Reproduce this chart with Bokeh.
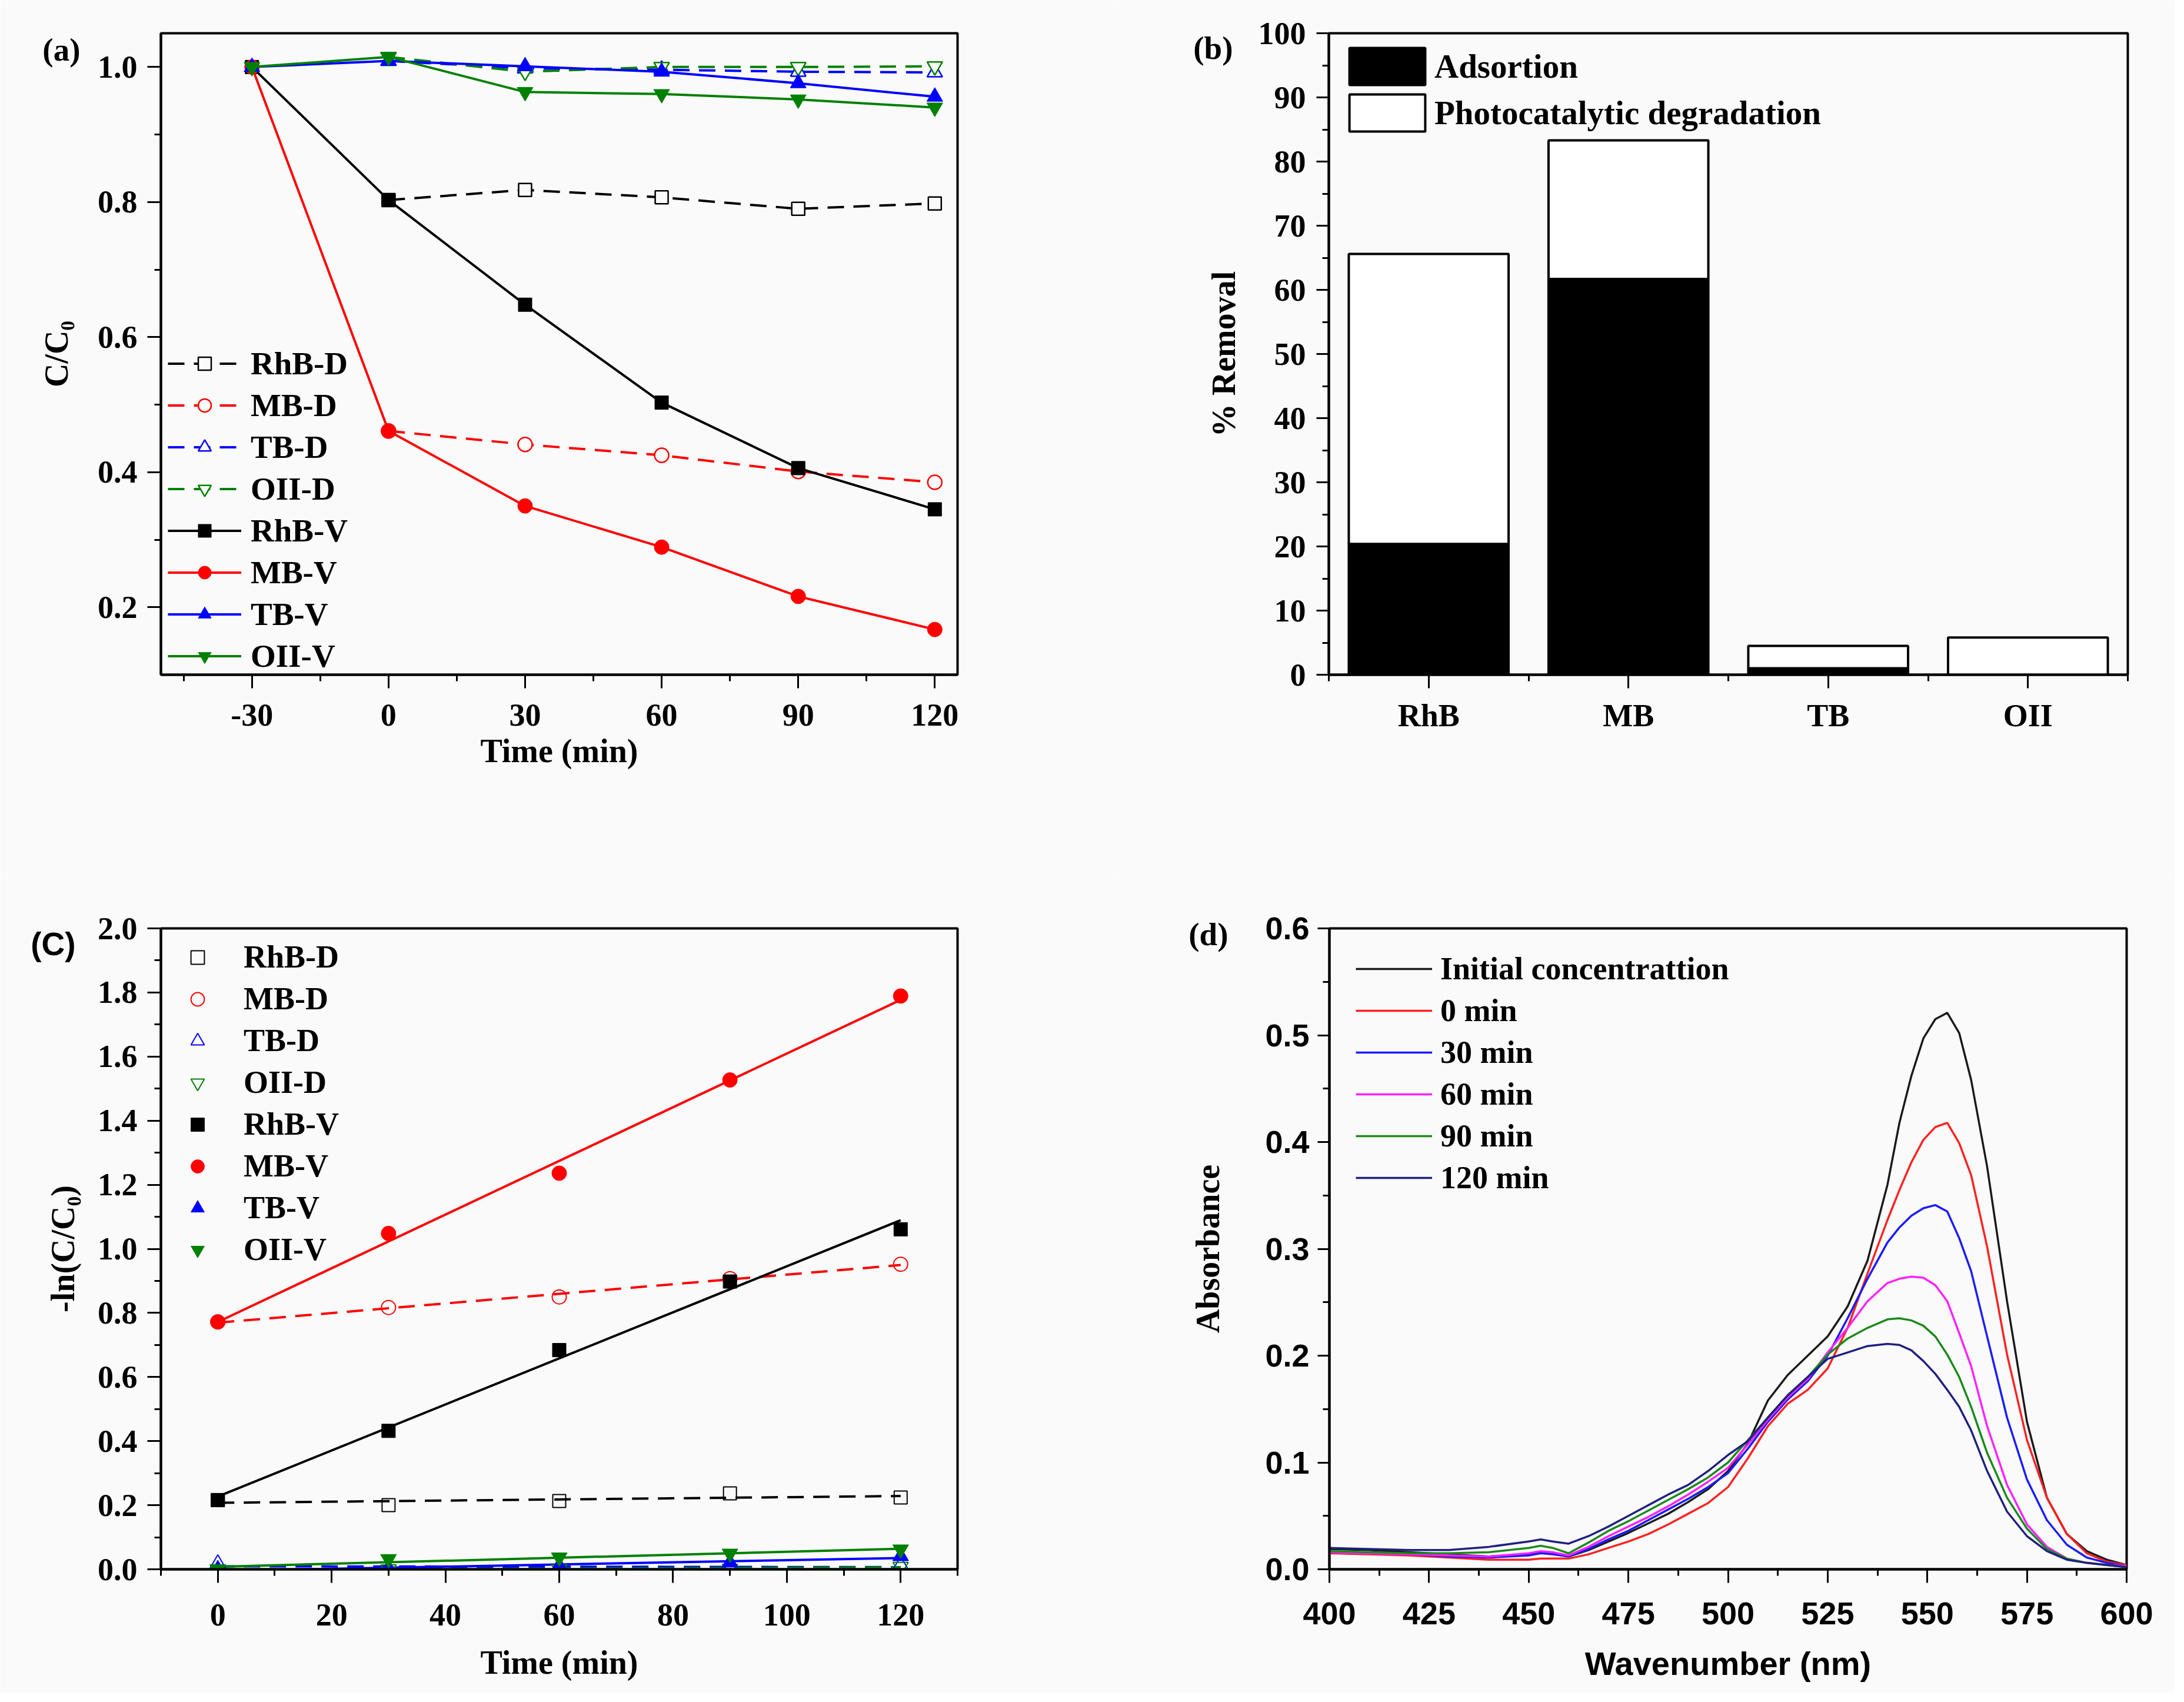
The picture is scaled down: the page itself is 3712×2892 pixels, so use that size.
import numpy as np
from bokeh.plotting import figure
from bokeh.layouts import column, row
from bokeh.models import (FixedTicker, Range1d, ColumnDataSource, NumeralTickFormatter,
                          LinearAxis)
from bokeh.embed import file_html
from bokeh.resources import INLINE

SERIF = "Liberation Serif"
SANS = "Liberation Sans"
BG = "#fafafa"

# ---------------- data: panel (a) ----------------
time_v = [-30, 0, 30, 60, 90, 120]
time_d = [0, 30, 60, 90, 120]
rhb_v = [1.0, 0.803, 0.648, 0.503, 0.406, 0.345]
mb_v = [1.0, 0.461, 0.350, 0.289, 0.216, 0.167]
tb_v = [1.0, 1.009, 1.001, 0.993, 0.976, 0.956]
oii_v = [1.0, 1.015, 0.963, 0.960, 0.952, 0.940]
rhb_d = [0.803, 0.818, 0.807, 0.790, 0.798]
mb_d = [0.461, 0.441, 0.425, 0.401, 0.385]
tb_d = [1.009, 0.998, 0.996, 0.993, 0.992]
oii_d = [1.015, 0.993, 1.000, 1.000, 1.001]
xticks_a = [-30, 0, 30, 60, 90, 120]
xminor_a = [-45, -15, 15, 45, 75, 105]
yticks_a = [0.2, 0.4, 0.6, 0.8, 1.0]
yminor_a = [0.3, 0.5, 0.7, 0.9]

# ---------------- data: panel (b) ----------------
dyes = ["RhB", "MB", "TB", "OII"]
adsorption = [20.4, 61.7, 1.0, 0.0]
photocatalytic = [45.2, 21.6, 3.5, 5.8]
yticks_b = [0, 10, 20, 30, 40, 50, 60, 70, 80, 90, 100]
yminor_b = [5, 15, 25, 35, 45, 55, 65, 75, 85, 95]

# ---------------- data: panel (c) ----------------
t_c = [0, 30, 60, 90, 120]
rhb_d_c = [0.216, 0.200, 0.213, 0.237, 0.224]
mb_d_c = [0.772, 0.817, 0.850, 0.907, 0.952]
tb_d_c = [0.018, 0.002, 0.002, 0.005, 0.013]
oii_d_c = [0.000, 0.000, 0.001, 0.002, 0.008]
rhb_v_c = [0.216, 0.432, 0.684, 0.898, 1.061]
mb_v_c = [0.772, 1.048, 1.236, 1.527, 1.789]
tb_v_c = [0.000, 0.002, 0.011, 0.021, 0.041]
oii_v_c = [0.000, 0.032, 0.037, 0.049, 0.062]
xticks_c = [0, 20, 40, 60, 80, 100, 120]
xminor_c = [-10, 10, 30, 50, 70, 90, 110, 130]
yticks_c = [0.0, 0.2, 0.4, 0.6, 0.8, 1.0, 1.2, 1.4, 1.6, 1.8, 2.0]
yminor_c = [0.1, 0.3, 0.5, 0.7, 0.9, 1.1, 1.3, 1.5, 1.7, 1.9]

# ---------------- data: panel (d) ----------------
wavelength = [400, 410, 420, 430, 440, 450, 453, 456, 460, 465, 470, 475, 480, 485, 490, 495,
              500, 505, 510, 515, 520, 525, 530, 535, 540, 543, 546, 549, 552, 555, 558, 561,
              565, 570, 575, 580, 585, 590, 595, 600]
abs_initial = [.019, .018, .016, .014, .012, .014, .016, .015, .012, .018, .026, .034, .043, .052, .063, .075,
               .092, .118, .158, .182, .200, .218, .246, .289, .360, .418, .462, .497, .515, .521, .502, .458,
               .377, .251, .138, .067, .033, .017, .009, .004]
abs_0 = [.015, .014, .013, .011, .009, .009, .010, .010, .010, .014, .020, .026, .033, .042, .052, .062,
         .077, .104, .134, .155, .168, .188, .226, .277, .327, .355, .381, .402, .414, .418, .399, .369,
         .302, .201, .121, .067, .033, .015, .007, .004]
abs_30 = [.016, .015, .014, .012, .011, .013, .015, .014, .012, .019, .028, .036, .046, .056, .066, .077,
          .090, .113, .138, .159, .176, .200, .235, .272, .306, .320, .331, .338, .341, .335, .310, .279,
          .218, .142, .084, .046, .023, .011, .006, .003]
abs_60 = [.016, .015, .014, .013, .012, .015, .017, .016, .013, .021, .031, .040, .049, .059, .070, .082,
          .095, .117, .140, .161, .178, .203, .226, .251, .268, .272, .274, .273, .266, .251, .221, .190,
          .134, .079, .042, .021, .010, .006, .004, .003]
abs_90 = [.017, .016, .015, .015, .016, .020, .022, .020, .015, .025, .036, .045, .055, .065, .075, .086,
          .100, .121, .142, .163, .180, .201, .216, .226, .234, .235, .233, .228, .218, .201, .180, .152,
          .109, .067, .038, .019, .010, .006, .004, .002]
abs_120 = [.020, .019, .018, .018, .021, .026, .028, .026, .024, .031, .040, .050, .060, .070, .079, .092,
           .107, .120, .142, .163, .180, .197, .203, .209, .211, .210, .205, .195, .183, .168, .152, .130,
           .092, .054, .031, .017, .009, .006, .004, .002]
spectra_labels = ["Initial concentrattion", "0 min", "30 min", "60 min", "90 min", "120 min"]
xticks_d = [400, 425, 450, 475, 500, 525, 550, 575, 600]
xminor_d = [412.5, 437.5, 462.5, 487.5, 512.5, 537.5, 562.5, 587.5]
yticks_d = [0.0, 0.1, 0.2, 0.3, 0.4, 0.5, 0.6]
yminor_d = [0.05, 0.15, 0.25, 0.35, 0.45, 0.55]


def make_fig(w, h, xr, yr, mbl, mbr, mbt, mbb):
    p = figure(width=w, height=h, x_range=Range1d(*xr), y_range=Range1d(*yr),
               output_backend="svg", toolbar_location=None,
               min_border_left=mbl, min_border_right=mbr, min_border_top=mbt, min_border_bottom=mbb,
               background_fill_color=BG, border_fill_color=BG)
    p.xgrid.visible = False
    p.ygrid.visible = False
    p.outline_line_color = "black"
    p.outline_line_width = 4
    p.outline_line_alpha = 1.0
    return p


def style_axis(ax, ticks, minor, tick_font, tick_size, tick_out, std, lab_std=10, fmt=None):
    ax.ticker = FixedTicker(ticks=ticks, minor_ticks=minor)
    ax.axis_line_width = 4
    ax.axis_line_color = "black"
    ax.major_tick_line_width = 3
    ax.minor_tick_line_width = 3
    ax.major_tick_out = tick_out
    ax.major_tick_in = 0
    ax.minor_tick_out = 11
    ax.minor_tick_in = 0
    ax.major_label_text_font = tick_font
    ax.major_label_text_font_style = "bold"
    ax.major_label_text_font_size = tick_size
    ax.major_label_text_color = "black"
    ax.major_label_standoff = std
    ax.axis_label_text_font = SERIF
    ax.axis_label_text_font_style = "bold"
    ax.axis_label_text_font_size = "56px"
    ax.axis_label_text_color = "black"
    ax.axis_label_standoff = lab_std
    if fmt is not None:
        ax.formatter = NumeralTickFormatter(format=fmt)


def letter_axis(p, letter, ypos, font, std, title, title_font, title_std):
    # outer left axis: carries the panel letter as its only tick label and the y title
    ax = LinearAxis(ticker=FixedTicker(ticks=[ypos], minor_ticks=[]),
                    major_label_overrides={ypos: letter})
    ax.axis_line_color = None
    ax.major_tick_line_color = None
    ax.minor_tick_line_color = None
    ax.major_tick_out = 0
    ax.major_tick_in = 0
    ax.minor_tick_out = 0
    ax.minor_tick_in = 0
    ax.major_label_text_font = font
    ax.major_label_text_font_style = "bold"
    ax.major_label_text_font_size = "55px"
    ax.major_label_text_color = "black"
    ax.major_label_standoff = std
    ax.axis_label = title
    ax.axis_label_text_font = title_font
    ax.axis_label_text_font_style = "bold"
    ax.axis_label_text_font_size = "56px"
    ax.axis_label_text_color = "black"
    ax.axis_label_standoff = title_std
    p.add_layout(ax, "left")


def style_legend(lg, loc, font, size, gw, gh, spacing, standoff):
    lg.location = loc
    lg.border_line_color = None
    lg.background_fill_alpha = 0
    lg.padding = 0
    lg.margin = 0
    lg.spacing = spacing
    lg.glyph_width = gw
    lg.glyph_height = gh
    lg.label_height = gh
    lg.label_standoff = standoff
    lg.label_text_font = font
    lg.label_text_font_style = "bold"
    lg.label_text_font_size = size
    lg.label_text_color = "black"


RED = "#ff0000"
BLUE = "#0000ff"
GREEN = "#008000"
LW = 4
DASH = "28 16"

# ---------------- panel (a) ----------------
pa = make_fig(1892, 1492, (-50, 125), (0.1, 1.05), 273, 265, 56, 346)
style_axis(pa.xaxis[0], xticks_a, xminor_a, SERIF, "54px", 23, 27, 9, "0")
style_axis(pa.yaxis[0], yticks_a, yminor_a, SERIF, "54px", 23, 17, 10, "0.0")
pa.xaxis[0].axis_label = "Time (min)"
letter_axis(pa, "(a)", 1.0254, SERIF, 26, "C/C₀", SERIF, -58)

series_d = [("RhB-D", rhb_d, "black", "square", 22), ("MB-D", mb_d, RED, "circle", 24),
            ("TB-D", tb_d, BLUE, "triangle", 26), ("OII-D", oii_d, GREEN, "inverted_triangle", 26)]
series_v = [("RhB-V", rhb_v, "black", "square", 23), ("MB-V", mb_v, RED, "circle", 25),
            ("TB-V", tb_v, BLUE, "triangle", 27), ("OII-V", oii_v, GREEN, "inverted_triangle", 27)]
for name, ys, col, mk, sz in series_d:
    pa.line(time_d, ys, line_color=col, line_width=LW, line_dash=DASH, legend_label=name)
    pa.scatter(time_d, ys, marker=mk, size=sz, line_color=col, line_width=2.5, fill_color=BG,
               legend_label=name)
for name, ys, col, mk, sz in series_v:
    pa.line(time_v, ys, line_color=col, line_width=LW, legend_label=name)
    pa.scatter(time_v, ys, marker=mk, size=sz, line_color=col, line_width=1, fill_color=col,
               legend_label=name)
style_legend(pa.legend[0], (12, 0), SERIF, "55px", 125, 55, 8, 16)

# ---------------- panel (b) ----------------
xpos = list(range(1, len(dyes) + 1))
xminor_b = [x - 0.5 for x in xpos] + [xpos[-1] + 0.5]
pb = make_fig(1804, 1492, (0.5, len(dyes) + 0.5), (0, 100), 366, 80, 56, 346)
style_axis(pb.xaxis[0], xpos, xminor_b, SERIF, "54px", 23, 16)
style_axis(pb.yaxis[0], yticks_b, yminor_b, SERIF, "54px", 21, 18, 10, "0")
pb.xaxis[0].major_label_overrides = {x: d for x, d in zip(xpos, dyes)}
letter_axis(pb, "(b)", 97.7, SERIF, 40, "% Removal", SERIF, -86)
src_b = ColumnDataSource(dict(x=xpos, ads=adsorption, photo=photocatalytic))
pb.vbar_stack(["ads", "photo"], x="x", width=0.8, source=src_b,
              fill_color=["black", "white"], line_color="black", line_width=4,
              legend_label=["Adsortion", "Photocatalytic degradation"])
style_legend(pb.legend[0], (19, 915), SERIF, "57px", 161, 79, -7, 0)

# ---------------- panel (c) ----------------
pc = make_fig(1892, 1384, (-10, 130), (0, 2.0), 273, 265, 83, 210)
style_axis(pc.xaxis[0], xticks_c, xminor_c, SERIF, "54px", 23, 36, 29)
style_axis(pc.yaxis[0], yticks_c, yminor_c, SERIF, "54px", 23, 17, 10, "0.0")
pc.xaxis[0].axis_label = "Time (min)"
letter_axis(pc, "(C)", 1.9517, SANS, 34, "-ln(C/C₀)", SERIF, -89)

series_dc = [("RhB-D", rhb_d_c, "black", "square", 22), ("MB-D", mb_d_c, RED, "circle", 24),
             ("TB-D", tb_d_c, BLUE, "triangle", 26), ("OII-D", oii_d_c, GREEN, "inverted_triangle", 26)]
series_vc = [("RhB-V", rhb_v_c, "black", "square", 23), ("MB-V", mb_v_c, RED, "circle", 25),
             ("TB-V", tb_v_c, BLUE, "triangle", 27), ("OII-V", oii_v_c, GREEN, "inverted_triangle", 27)]
t_arr = np.array(t_c, dtype=float)
fit_x = [t_c[0], t_c[-1]]
for (name, ys, col, mk, sz), dash in [(s, DASH) for s in series_dc] + [(s, "solid") for s in series_vc]:
    k, b = np.polyfit(t_arr, np.array(ys), 1)
    pc.line(fit_x, [b + k * fit_x[0], b + k * fit_x[1]], line_color=col, line_width=LW, line_dash=dash)
for name, ys, col, mk, sz in series_dc:
    pc.scatter(t_c, ys, marker=mk, size=sz, line_color=col, line_width=2, fill_color=None,
               legend_label=name)
for name, ys, col, mk, sz in series_vc:
    pc.scatter(t_c, ys, marker=mk, size=sz, line_color=col, line_width=1, fill_color=col,
               legend_label=name)
style_legend(pc.legend[0], (34, 512), SERIF, "54px", 57, 57, 9, 50)

# ---------------- panel (d) ----------------
pd_ = make_fig(1804, 1384, (400, 600), (0, 0.6), 367, 82, 85, 210)
style_axis(pd_.xaxis[0], xticks_d, xminor_d, SANS, "54px", 23, 33, 32)
style_axis(pd_.yaxis[0], yticks_d, yminor_d, SANS, "54px", 20, 14, 10, "0.0")
pd_.xaxis[0].axis_label = "Wavenumber (nm)"
pd_.xaxis[0].axis_label_text_font = SANS
letter_axis(pd_, "(d)", 0.5945, SERIF, 60, "Absorbance", SERIF, -67)
spectra = [abs_initial, abs_0, abs_30, abs_60, abs_90, abs_120]
spec_colors = ["#1a1a1a", "#ff2020", "#1a1aff", "#ff20ff", "#1a8a1a", "#202080"]
for lab, ys, col in zip(spectra_labels, spectra, spec_colors):
    pd_.line(wavelength, ys, line_color=col, line_width=3.5, legend_label=lab)
style_legend(pd_.legend[0], (45, 634), SERIF, "54px", 130, 40, 9, 14)

layout = column(row(pa, pb), row(pc, pd_))
open("out.html", "w").write(file_html(layout, INLINE))
